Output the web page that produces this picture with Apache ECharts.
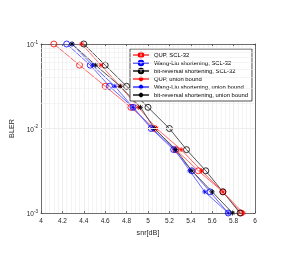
<!DOCTYPE html>
<html><head><meta charset="utf-8">
<script src="https://cdn.jsdelivr.net/npm/echarts@6/dist/echarts.min.js"></script>
<style>html,body{margin:0;padding:0;background:#fff}#c{width:286px;height:265px}</style>
</head><body><div id="c"></div>
<script>
// BLER levels (y) shared by all curves
const bler = [0.1, 0.0562, 0.0316, 0.0178, 0.01, 0.00562, 0.00316, 0.00178, 0.001];
// SNR [dB] needed for each BLER level
const qupScl   = [4.12, 4.36, 4.60, 4.84, 5.06, 5.26, 5.47, 5.70, 5.87];
const wlScl    = [4.24, 4.46, 4.64, 4.86, 5.03, 5.24, 5.41, 5.58, 5.75];
const brScl    = [4.40, 4.60, 4.80, 5.00, 5.20, 5.36, 5.54, 5.70, 5.86];
const qupUb    = [4.38, 4.56, 4.74, 4.91, 5.08, 5.31, 5.50, 5.70, 5.89];
const wlUb     = [4.29, 4.48, 4.69, 4.86, 5.04, 5.25, 5.39, 5.53, 5.75];
const brUb     = [4.29, 4.51, 4.74, 4.93, 5.06, 5.26, 5.41, 5.60, 5.79];
const names = ['QUP, SCL-32','Wang-Liu shortening, SCL-32','bit-reversal shortening, SCL-32',
               'QUP, union bound','Wang-Liu shortening, union bound','bit-reversal shortening, union bound'];
const yMinor = [0.002,0.003,0.004,0.005,0.006,0.007,0.008,0.009,0.02,0.03,0.04,0.05,0.06,0.07,0.08,0.09];

const star = 'path://M0 5 L10 5 M5 0 L5 10 M1.5 1.5 L8.5 8.5 M1.5 8.5 L8.5 1.5';
const ring = 'path://M10 5 A5 5 0 1 1 0 5 A5 5 0 1 1 10 5 Z';
const font = 'Liberation Sans, Arial, sans-serif';
const axCol = '#4d4d4d';
const minorCol = '#ececec';

function mk(name, xs, color, lineColor, isStar) {
  return {
    name, type: 'line', data: xs.map((x, i) => [x, bler[i]]),
    symbol: isStar ? star : ring,
    symbolSize: isStar ? 5 : 6,
    showSymbol: true, showAllSymbol: true,
    lineStyle: {color: lineColor, width: 1, type: 'solid', opacity: 1},
    itemStyle: {color: 'rgba(255,255,255,0)', borderColor: color, borderWidth: 0.8},
    emphasis: {disabled: true}, animation: false, z: 3
  };
}

const chart = echarts.init(document.getElementById('c'), null, {renderer: 'canvas'});
chart.setOption({
  animation: false,
  backgroundColor: '#fff',
  grid: {left: 41, right: 31, top: 44, bottom: 52, containLabel: false},
  legend: {
    data: names, orient: 'vertical', left: 130, top: 49,
    padding: [2, 4, 2, 2], itemGap: 0, itemWidth: 16, itemHeight: 5.5,
    backgroundColor: '#fff', borderColor: '#262626', borderWidth: 0.8,
    textStyle: {fontSize: 5.9, fontFamily: font, color: '#000', lineHeight: 8},
    selectedMode: false
  },
  xAxis: [{
    type: 'value', min: 4, max: 6, interval: 0.2,
    name: 'snr[dB]', nameLocation: 'middle', nameGap: 16,
    nameTextStyle: {fontSize: 7.2, fontFamily: font, color: '#262626'},
    axisLine: {show: true, lineStyle: {color: axCol, width: 0.8}},
    axisTick: {show: true, inside: true, length: 2, lineStyle: {color: axCol, width: 0.8}},
    axisLabel: {fontSize: 6.5, fontFamily: font, color: '#262626', margin: 5,
      formatter: v => String(+v.toFixed(1))},
    splitLine: {show: true, lineStyle: {color: '#e0e0e0', width: 0.6}},
    minorTick: {show: false},
    minorSplitLine: {show: true, lineStyle: {color: minorCol, width: 0.6}}
  }, {
    type: 'value', min: 4, max: 6, interval: 0.2, position: 'top',
    axisLine: {show: true, lineStyle: {color: axCol, width: 0.8}},
    axisTick: {show: true, inside: true, length: 2, lineStyle: {color: axCol, width: 0.8}},
    axisLabel: {show: false}, splitLine: {show: false}
  }],
  yAxis: [{
    type: 'log', logBase: 10, min: 0.001, max: 0.1,
    name: 'BLER', nameLocation: 'middle', nameGap: 19,
    nameTextStyle: {fontSize: 7.2, fontFamily: font, color: '#262626'},
    axisLine: {show: true, lineStyle: {color: axCol, width: 0.8}},
    axisTick: {show: true, inside: true, length: 2, lineStyle: {color: axCol, width: 0.8}},
    axisLabel: {fontFamily: font, color: '#262626', margin: 3,
      formatter: v => '{b|10}{s|' + Math.round(Math.log10(v)) + '}',
      rich: {b: {fontSize: 6.5, fontFamily: font, color: '#262626', padding: [3, 0, 0, 0]},
             s: {fontSize: 4.6, fontFamily: font, color: '#262626', padding: [0, 0, 3, 0]}}},
    splitLine: {show: true, lineStyle: {color: '#e0e0e0', width: 0.6}}
  }, {
    type: 'log', logBase: 10, min: 0.001, max: 0.1, position: 'right',
    axisLine: {show: true, lineStyle: {color: axCol, width: 0.8}},
    axisTick: {show: true, inside: true, length: 2, lineStyle: {color: axCol, width: 0.8}},
    axisLabel: {show: false}, splitLine: {show: false}
  }],
  series: [
    mk(names[0], qupScl, '#ff0000', '#ff6a6a', false),
    mk(names[1], wlScl, '#0000ff', '#6a6aff', false),
    mk(names[2], brScl, '#000000', '#555555', false),
    mk(names[3], qupUb, '#ff0000', '#ff6a6a', true),
    mk(names[4], wlUb, '#0000ff', '#6a6aff', true),
    mk(names[5], brUb, '#000000', '#555555', true),
    {
      name: 'minorGrid', type: 'line', data: [[4, 0.1]], symbol: 'none',
      lineStyle: {opacity: 0}, silent: true, z: 1,
      markLine: {silent: true, symbol: 'none', label: {show: false}, animation: false,
        lineStyle: {color: minorCol, width: 0.6, type: 'solid'}, emphasis: {disabled: true},
        data: yMinor.map(v => ({yAxis: v}))}
    }
  ]
});
</script></body></html>
